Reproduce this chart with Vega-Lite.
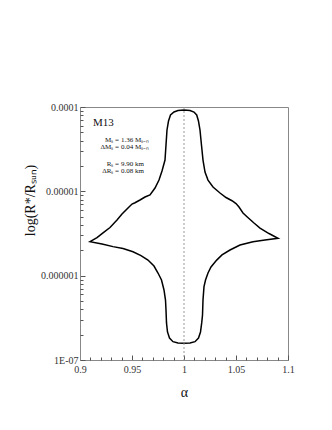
{
  "$schema": "https://vega.github.io/schema/vega-lite/v6.json",
  "width": 208,
  "height": 253,
  "autosize": "none",
  "padding": {"left": 80, "top": 107, "right": 44, "bottom": 70},
  "background": "white",
  "config": {
    "view": {"stroke": "#888", "strokeWidth": 1},
    "font": "Liberation Serif",
    "axis": {"labelFont": "Liberation Serif", "titleFont": "Liberation Serif", "domainColor": "#888", "tickColor": "#555", "labelColor": "#333", "titleColor": "#111", "grid": false, "labelFontSize": 10}
  },
  "resolve": {"axis": {"x": "independent", "y": "independent"}},
  "datasets": {
    "curve": [
      {"o": 1, "a": 1.0, "r": 9.21e-5},
      {"o": 2, "a": 1.00577, "r": 9.09e-5},
      {"o": 3, "a": 1.00962, "r": 8.72e-5},
      {"o": 4, "a": 1.0122, "r": 8.04e-5},
      {"o": 5, "a": 1.0139, "r": 6.82e-5},
      {"o": 6, "a": 1.01538, "r": 5.34e-5},
      {"o": 7, "a": 1.0168, "r": 3.54e-5},
      {"o": 8, "a": 1.01827, "r": 2.35e-5},
      {"o": 9, "a": 1.0202, "r": 1.69e-5},
      {"o": 10, "a": 1.02308, "r": 1.36e-5},
      {"o": 11, "a": 1.0279, "r": 1.125e-5},
      {"o": 12, "a": 1.03462, "r": 9.55e-6},
      {"o": 13, "a": 1.0404, "r": 8.45e-6},
      {"o": 14, "a": 1.04615, "r": 7.74e-6},
      {"o": 15, "a": 1.05, "r": 7.17e-6},
      {"o": 16, "a": 1.05288, "r": 6.52e-6},
      {"o": 17, "a": 1.05673, "r": 5.53e-6},
      {"o": 18, "a": 1.06058, "r": 5.0e-6},
      {"o": 19, "a": 1.0673, "r": 4.21e-6},
      {"o": 20, "a": 1.07308, "r": 3.67e-6},
      {"o": 21, "a": 1.08173, "r": 3.16e-6},
      {"o": 22, "a": 1.09038, "r": 2.77e-6},
      {"o": 23, "a": 1.0779, "r": 2.65e-6},
      {"o": 24, "a": 1.06635, "r": 2.53e-6},
      {"o": 25, "a": 1.05385, "r": 2.31e-6},
      {"o": 26, "a": 1.04423, "r": 2.015e-6},
      {"o": 27, "a": 1.03654, "r": 1.76e-6},
      {"o": 28, "a": 1.03144, "r": 1.53e-6},
      {"o": 29, "a": 1.02596, "r": 1.27e-6},
      {"o": 30, "a": 1.02308, "r": 1.075e-6},
      {"o": 31, "a": 1.0207, "r": 8.88e-7},
      {"o": 32, "a": 1.01923, "r": 7.4e-7},
      {"o": 33, "a": 1.01827, "r": 5.14e-7},
      {"o": 34, "a": 1.0178, "r": 3.42e-7},
      {"o": 35, "a": 1.01702, "r": 2.75e-7},
      {"o": 36, "a": 1.01587, "r": 2.15e-7},
      {"o": 37, "a": 1.01394, "r": 1.82e-7},
      {"o": 38, "a": 1.01058, "r": 1.65e-7},
      {"o": 39, "a": 1.00577, "r": 1.59e-7},
      {"o": 40, "a": 1.0, "r": 1.58e-7},
      {"o": 41, "a": 0.99423, "r": 1.59e-7},
      {"o": 42, "a": 0.98942, "r": 1.65e-7},
      {"o": 43, "a": 0.98606, "r": 1.82e-7},
      {"o": 44, "a": 0.98413, "r": 2.15e-7},
      {"o": 45, "a": 0.98317, "r": 2.75e-7},
      {"o": 46, "a": 0.98269, "r": 3.92e-7},
      {"o": 47, "a": 0.98221, "r": 5.14e-7},
      {"o": 48, "a": 0.98077, "r": 6.76e-7},
      {"o": 49, "a": 0.97837, "r": 8.88e-7},
      {"o": 50, "a": 0.975, "r": 1.075e-6},
      {"o": 51, "a": 0.97115, "r": 1.3e-6},
      {"o": 52, "a": 0.96538, "r": 1.53e-6},
      {"o": 53, "a": 0.95865, "r": 1.73e-6},
      {"o": 54, "a": 0.95096, "r": 1.92e-6},
      {"o": 55, "a": 0.94135, "r": 2.1e-6},
      {"o": 56, "a": 0.93173, "r": 2.21e-6},
      {"o": 57, "a": 0.92115, "r": 2.37e-6},
      {"o": 58, "a": 0.90962, "r": 2.53e-6},
      {"o": 59, "a": 0.91635, "r": 2.83e-6},
      {"o": 60, "a": 0.92212, "r": 3.21e-6},
      {"o": 61, "a": 0.92885, "r": 3.72e-6},
      {"o": 62, "a": 0.93558, "r": 4.57e-6},
      {"o": 63, "a": 0.94038, "r": 5.38e-6},
      {"o": 64, "a": 0.94615, "r": 6.34e-6},
      {"o": 65, "a": 0.95, "r": 7.07e-6},
      {"o": 66, "a": 0.95288, "r": 7.33e-6},
      {"o": 67, "a": 0.95769, "r": 7.89e-6},
      {"o": 68, "a": 0.9625, "r": 8.57e-6},
      {"o": 69, "a": 0.96731, "r": 9.05e-6},
      {"o": 70, "a": 0.97212, "r": 1.095e-5},
      {"o": 71, "a": 0.97596, "r": 1.36e-5},
      {"o": 72, "a": 0.97885, "r": 1.74e-5},
      {"o": 73, "a": 0.98173, "r": 2.35e-5},
      {"o": 74, "a": 0.98269, "r": 3.54e-5},
      {"o": 75, "a": 0.98365, "r": 5.34e-5},
      {"o": 76, "a": 0.9851, "r": 6.82e-5},
      {"o": 77, "a": 0.98702, "r": 8.04e-5},
      {"o": 78, "a": 0.99038, "r": 8.72e-5},
      {"o": 79, "a": 0.99423, "r": 9.09e-5},
      {"o": 80, "a": 1.0, "r": 9.21e-5}
    ],
    "notes": [
      {"a": 0.9375, "r": 4.06e-5, "lhs": "Mₛ =", "rhs": "1.36 Mₛᵤₙ"},
      {"a": 0.9375, "r": 3.33e-5, "lhs": "ΔMₛ =", "rhs": "0.04 Mₛᵤₙ"},
      {"a": 0.9375, "r": 2.11e-5, "lhs": "Rₛ =", "rhs": "9.90  km"},
      {"a": 0.9375, "r": 1.756e-5, "lhs": "ΔRₛ =", "rhs": "0.08 km"}
    ],
    "label": [
      {"a": 0.9125, "r": 6.52e-5, "t": "M13"}
    ],
    "ref": [
      {"a": 1.0}
    ]
  },
  "layer": [
    {
      "data": {"name": "curve"},
      "mark": {"type": "line", "color": "black", "strokeWidth": 1.5, "interpolate": "linear"},
      "encoding": {
        "x": {"field": "a", "type": "quantitative", "scale": {"domain": [0.9, 1.1], "nice": false, "zero": false},
          "axis": {
            "orient": "bottom",
            "title": "α", "titleFontSize": 14, "titleFontWeight": "normal", "titlePadding": 11,
            "values": [0.9, 0.95, 1, 1.05, 1.1],
            "format": "~g",
            "labelOverlap": false, "labelFlush": false, "labelBound": false,
            "tickSize": -5,
            "labelPadding": 9
          }
        },
        "y": {"field": "r", "type": "quantitative", "scale": {"type": "log", "domain": [1e-7, 1e-4], "nice": false},
          "axis": {
            "orient": "left",
            "title": "log(R*/Rₛᵤₙ)", "titleFontSize": 14, "titleFontWeight": "normal",
            "titleX": -50, "titleY": 93, "titleAngle": -90, "titleAlign": "center", "titleBaseline": "middle",
            "values": [1e-7, 1e-6, 1e-5, 1e-4],
            "labelExpr": "datum.value > 9e-5 ? '0.0001' : datum.value > 9e-6 ? '0.00001' : datum.value > 9e-7 ? '0.000001' : '1E-07'",
            "labelOverlap": false, "labelFlush": false, "labelBound": false,
            "tickSize": -5,
            "labelPadding": 7
          }
        },
        "order": {"field": "o", "type": "quantitative"}
      }
    },
    {
      "data": {"name": "ref"},
      "mark": {"type": "rule", "strokeDash": [2, 2], "color": "#999", "strokeWidth": 1},
      "encoding": {
        "x": {"field": "a", "type": "quantitative", "axis": null}
      }
    },
    {
      "data": {"name": "notes"},
      "mark": {"type": "text", "align": "right", "baseline": "middle", "fontSize": 7, "font": "Liberation Serif", "color": "#111"},
      "encoding": {
        "x": {"field": "a", "type": "quantitative",
          "axis": {"orient": "bottom", "title": null, "labels": false, "domain": false, "tickSize": -3,
            "values": [0.91, 0.92, 0.93, 0.94, 0.96, 0.97, 0.98, 0.99, 1.01, 1.02, 1.03, 1.04, 1.06, 1.07, 1.08, 1.09]}
        },
        "y": {"field": "r", "type": "quantitative",
          "axis": {"orient": "left", "title": null, "labels": false, "domain": false, "tickSize": -3,
            "values": [2e-7, 3e-7, 4e-7, 5e-7, 6e-7, 7e-7, 8e-7, 9e-7, 2e-6, 3e-6, 4e-6, 5e-6, 6e-6, 7e-6, 8e-6, 9e-6, 2e-5, 3e-5, 4e-5, 5e-5, 6e-5, 7e-5, 8e-5, 9e-5]}
        },
        "text": {"field": "lhs"}
      }
    },
    {
      "data": {"name": "notes"},
      "mark": {"type": "text", "align": "left", "baseline": "middle", "fontSize": 7, "font": "Liberation Serif", "color": "#111", "dx": 2},
      "encoding": {
        "x": {"field": "a", "type": "quantitative", "axis": null},
        "y": {"field": "r", "type": "quantitative", "axis": null},
        "text": {"field": "rhs"}
      }
    },
    {
      "data": {"name": "label"},
      "mark": {"type": "text", "align": "left", "baseline": "middle", "fontSize": 11, "font": "Liberation Serif", "color": "#111"},
      "encoding": {
        "x": {"field": "a", "type": "quantitative", "axis": null},
        "y": {"field": "r", "type": "quantitative", "axis": null},
        "text": {"field": "t"}
      }
    }
  ]
}
